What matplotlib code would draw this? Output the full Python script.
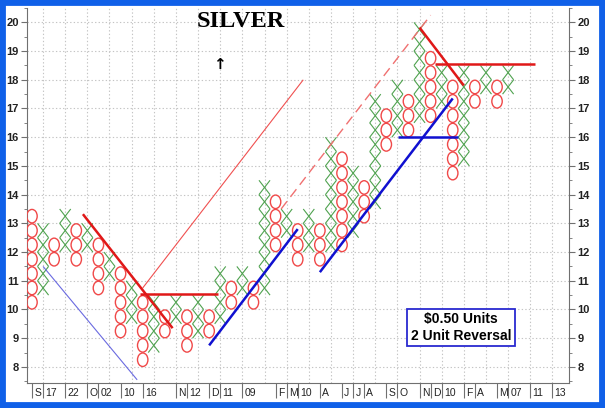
import matplotlib.pyplot as plt
from matplotlib.patches import Ellipse, Rectangle
from matplotlib.collections import LineCollection
from matplotlib.transforms import blended_transform_factory

# point & figure columns: type, lowest box, highest box ($0.50 boxes)
col_type = "OXOXOXOXOXOXOXOXOXOXOXOXOXOXOXOXOXOXOXOXOXOX"
col_low = [10.25, 10.75, 11.75, 12.25, 11.75, 12.25, 10.75, 11.25, 9.25, 9.75,
           8.25, 8.75, 9.25, 9.75, 8.75, 9.25, 9.25, 9.75, 10.25, 10.75,
           10.25, 10.75, 12.25, 12.75, 11.75, 12.25, 11.75, 12.25, 12.25, 12.75,
           13.25, 13.75, 15.75, 16.25, 16.25, 16.75, 16.75, 17.25, 14.75, 15.25,
           17.25, 17.75, 17.25, 17.75]
col_high = [13.25, 12.75, 12.25, 13.25, 12.75, 12.75, 12.25, 11.75, 11.25, 10.75,
            10.25, 10.25, 9.75, 10.25, 9.75, 10.25, 9.75, 11.25, 10.75, 11.25,
            10.75, 14.25, 13.75, 13.25, 12.75, 13.25, 12.75, 15.75, 15.25, 14.75,
            14.25, 17.25, 16.75, 17.75, 17.25, 19.75, 18.75, 18.25, 17.75, 18.25,
            17.75, 18.25, 17.75, 18.25]

# date labels under the columns
date_cols = [0, 1, 3, 5, 6, 8, 10, 13, 14, 16, 17, 19, 22, 23, 24, 26, 28, 29, 30,
             32, 33, 35, 36, 37, 39, 40, 42, 43, 45, 47]
date_labels = ["S", "17", "22", "O", "02", "10", "16", "N", "12", "D", "11", "09",
               "F", "M", "10", "A", "J", "J", "A", "S", "O", "N", "D", "10", "F",
               "A", "M", "07", "11", "13"]

# trend lines (column, price)
red_thin = [(10.0, 10.75), (24.5, 18.0)]
red_dash = [(22.5, 13.5), (36.0, 20.25)]
red_down1 = [(4.6, 13.32), (12.7, 9.35)]
red_flat1 = [(9.8, 10.55), (16.8, 10.55)]
red_down2 = [(35.0, 19.82), (39.0, 17.8)]
red_flat2 = [(36.4, 18.55), (45.4, 18.55)]
blue_thin = [(1.0, 11.5), (9.5, 7.55)]
blue_up1 = [(16.0, 8.75), (24.0, 12.8)]
blue_up2 = [(26.0, 11.3), (38.0, 17.35)]
blue_flat = [(33.1, 16.0), (38.5, 16.0)]

box = 0.5

fig = plt.figure(figsize=(6.05, 4.08), dpi=100)
ax = fig.add_axes([27 / 605, 25 / 408, 542 / 605, 375 / 408])

x_segs = []
for c, (t, lo, hi) in enumerate(zip(col_type, col_low, col_high)):
    n = int(round((hi - lo) / box)) + 1
    for k in range(n):
        p = lo + k * box
        if t == "X":
            x_segs.append([(c - 0.5, p - 0.25), (c + 0.5, p + 0.25)])
            x_segs.append([(c - 0.5, p + 0.25), (c + 0.5, p - 0.25)])
        else:
            ax.add_patch(Ellipse((c, p), 0.94, 0.47, fill=False,
                                 edgecolor="#f04848", lw=1.0, zorder=3))
ax.add_collection(LineCollection(x_segs, colors="#4fa24f", lw=0.8, zorder=3))

def seg(pts, **kw):
    xs, ys = zip(*pts)
    ax.plot(xs, ys, zorder=4, solid_capstyle="butt", **kw)

seg(red_thin, color="#f05050", lw=0.8)
seg(red_dash, color="#f07070", lw=1.0, dashes=(7, 4))
seg(red_down1, color="#e01818", lw=1.8)
seg(red_flat1, color="#e01818", lw=1.8)
seg(red_down2, color="#e01818", lw=1.8)
seg(red_flat2, color="#e01818", lw=1.8)
seg(blue_thin, color="#6a6ae0", lw=0.8)
seg(blue_up1, color="#1010d0", lw=1.8)
seg(blue_up2, color="#1010d0", lw=1.8)
seg(blue_flat, color="#1010d0", lw=1.8)

ax.set_xlim(-0.45, 48.5)
ax.set_ylim(7.44, 20.42)

# grid
for c in range(1, 49, 2):
    ax.axvline(c, color="#c4c4c4", lw=0.8, dashes=(1.2, 2), zorder=1)
for p in range(8, 21):
    ax.axhline(p, color="#c4c4c4", lw=0.8, dashes=(1.2, 2), zorder=1)

ax.set_yticks(range(8, 21))
ax.set_yticks([v + 0.5 for v in range(7, 21)], minor=True)
ax.tick_params(axis="y", which="both", left=True, right=True, labelleft=True,
               labelright=True, direction="out", color="#707070", labelsize=8,
               pad=2)
ax.tick_params(axis="y", which="major", length=4)
ax.tick_params(axis="y", which="minor", length=2)
for lab in ax.get_yticklabels():
    lab.set_fontweight("bold")
    lab.set_family("Liberation Sans")
    lab.set_color("#222222")

ax.set_xticks(date_cols)
ax.set_xticklabels([])
ax.tick_params(axis="x", length=11, color="#707070", width=0.8)
tr = blended_transform_factory(ax.transData, ax.transAxes)
for c, s in zip(date_cols, date_labels):
    ax.text(c + 0.2, -0.012, s, transform=tr, ha="left", va="top", fontsize=7.5,
            family="Liberation Sans", color="#222222")

for side in ["left", "right", "bottom"]:
    ax.spines[side].set_color("#707070")
ax.spines["top"].set_visible(False)

ax.text(0.395, 0.965, "SILVER", transform=ax.transAxes, ha="center", va="center",
        family="Liberation Serif", fontweight="bold", fontsize=17.5)
ax.text(0.355, 0.85, "\u2191", transform=ax.transAxes, ha="center", va="center",
        fontsize=11, fontweight="bold")
ax.text(0.801, 0.148, "$0.50 Units\n2 Unit Reversal", transform=ax.transAxes,
        ha="center", va="center", fontsize=10, fontweight="bold",
        family="Liberation Sans", linespacing=1.2,
        bbox=dict(boxstyle="square,pad=0.25", facecolor="white",
                  edgecolor="#2a2ad0", lw=1.3))

fig.patches.append(Rectangle((0, 0), 1, 1, transform=fig.transFigure, fill=False,
                             edgecolor="#1060e8", lw=8.5))

fig.savefig("out.png", dpi=100)
